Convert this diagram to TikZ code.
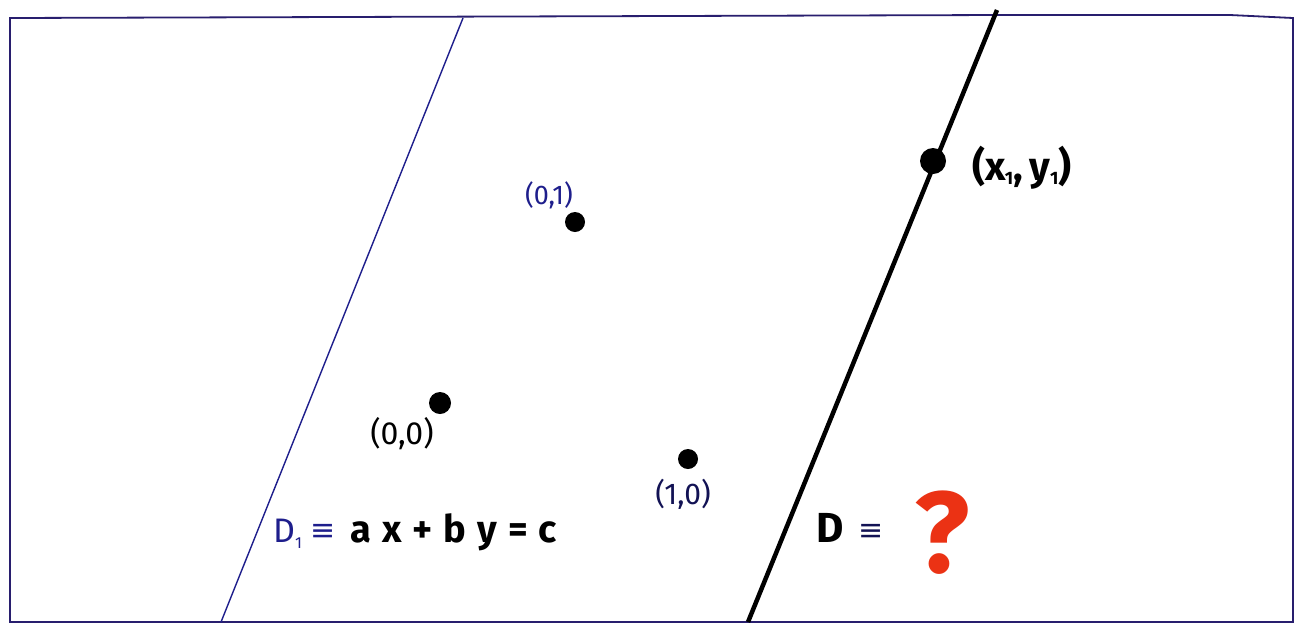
\documentclass[tikz,border=0pt]{standalone}
\usepackage{fontspec}
\setmainfont{Fira Sans}
\newfontfamily\symfont{DejaVu Sans}
\definecolor{inkblue}{RGB}{30,30,140}
\definecolor{framecol}{RGB}{40,30,110}
\definecolor{qred}{RGB}{235,50,20}
\tikzset{
  dot/.style={circle,fill=black,inner sep=0pt,minimum size=#1},
  lbl/.style={inner sep=0pt,font=\fontsize{#1}{#1}\selectfont},
}
\newcommand{\sq}{\hspace{11pt}}
\begin{document}
\begin{tikzpicture}[x=1pt,y=-1pt]
\useasboundingbox (0,0) rectangle (1305,625);
\fill[white] (0,0) rectangle (1305,625);
% frame
\draw[framecol,line width=1.8pt] (10,18) -- (1000,15) -- (1230,15) -- (1293,18) -- (1293,622) -- (10,622) -- cycle;
% lines
\coordinate (b1) at (463,18);
\coordinate (b2) at (221,622);
\coordinate (k1) at (997,10);
\coordinate (k2) at (748,622);
\draw[inkblue,line width=1.4pt] (b1) -- (b2);
\draw[black,line width=4.5pt] (k1) -- (k2);
% dots
\node[dot=20pt] (p01) at (575,222) {};
\node[dot=22pt] (p00) at (440,403) {};
\node[dot=20pt] (p10) at (688,459) {};
\node[dot=26pt] (p1) at (933,161) {};
% labels
\node[lbl=27pt,inkblue] (l01) at (549,195) {(0,1)};
\node[lbl=32pt,black] (l00) at (402,434) {(0,0)};
\node[lbl=30pt,inkblue!60!black] (l10) at (683,494) {(1,0)};
\node[lbl=40pt,black,font=\fontsize{40pt}{40pt}\selectfont\bfseries] (lp1) at (1022,168) {(x\kern-1pt\raisebox{-4pt}{\fontsize{18pt}{18pt}\selectfont 1},\,y\raisebox{-4pt}{\fontsize{18pt}{18pt}\selectfont 1})};
\node[lbl=34pt,anchor=base west,inkblue] (d1) at (273,542) {D\raisebox{-6pt}{\fontsize{16pt}{16pt}\selectfont 1}};
\node[lbl=30pt,anchor=base west,inkblue] (e1) at (310,540) {\symfont ≡};
\node[lbl=38pt,anchor=base west,font=\fontsize{38pt}{38pt}\selectfont\bfseries] (eq1) at (350,542) {a\sq x\sq +\sq b\sq y\sq =\sq c};
\node[lbl=42pt,anchor=base west,font=\fontsize{42pt}{42pt}\selectfont\bfseries] (eq2) at (816,542) {D};
\node[lbl=30pt,anchor=base west,inkblue!60!black] (e2) at (858,540) {\symfont ≡};
\node[lbl=115pt,qred,font=\fontsize{115pt}{115pt}\selectfont\bfseries] (q) at (942,533) {?};
\end{tikzpicture}
\end{document}
